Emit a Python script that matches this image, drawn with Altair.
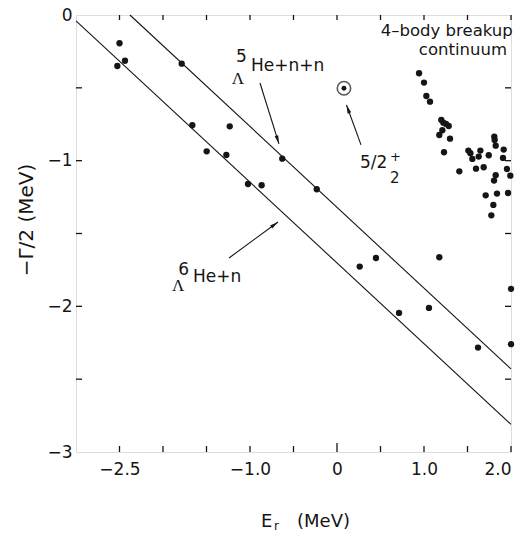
import altair as alt
import pandas as pd

# ---- data ----
pts_x = [-2.50, -2.525, -2.437, -1.785, -1.663, -1.233, -1.498, -1.272, -1.023, -0.866,
         -0.629, -0.233, 0.448, 0.261, 1.176, 0.713, 1.057, 1.621, 2.0, 2.0,
         0.943, 1.000, 1.027, 1.069, 1.199, 1.222, 1.253, 1.284, 1.211, 1.176,
         1.299, 1.230, 1.406, 1.510, 1.533, 1.556, 1.648, 1.629, 1.744, 1.598,
         1.686, 1.808, 1.812, 1.824, 1.916, 1.908, 1.954, 1.992, 1.824, 1.805,
         1.709, 1.839, 1.966, 1.797, 1.774]
pts_y = [-0.194, -0.350, -0.314, -0.334, -0.757, -0.764, -0.936, -0.961, -1.160, -1.169,
         -0.986, -1.196, -1.668, -1.727, -1.663, -2.045, -2.011, -2.283, -1.880, -2.260,
         -0.400, -0.464, -0.556, -0.595, -0.721, -0.739, -0.748, -0.762, -0.791, -0.824,
         -0.849, -0.942, -1.073, -0.931, -0.949, -0.988, -0.931, -0.972, -0.963, -1.055,
         -1.045, -0.835, -0.858, -0.897, -0.924, -0.981, -1.057, -1.103, -1.100, -1.137,
         -1.238, -1.226, -1.222, -1.304, -1.375]

circled_x = [0.080]
circled_y = [-0.503]

line_names = ["6He+n", "6He+n", "5He+n+n", "5He+n+n"]
line_x = [-3.0, 2.0, -2.38, 2.0]
line_y = [-0.04, -2.81, 0.0, -2.43]

arrow_x = [-0.885, -1.241, 0.276]
arrow_y = [-0.467, -1.668, -0.892]
arrow_x2 = [-0.667, -0.678, 0.109]
arrow_y2 = [-0.885, -1.421, -0.618]
arrow_angle = [162.7, 53.7, 340.0]

x_ticks = [-2.5, -2.0, -1.5, -1.0, -0.5, 0.5, 1.0, 1.5, 2.0]
x_major_tick = [0.0]
x_labels = [-2.5, -1.0, 0.0, 1.0, 2.0]
y_ticks = [-0.5, -1.0, -1.5, -2.0, -2.5]
y_labels = [0, -1, -2, -3]

W, H = 435, 437
FONT = "DejaVu Sans"
INK = "#151515"

xs = alt.Scale(domain=[-3, 2], nice=False, zero=False)
ys = alt.Scale(domain=[-3, 0], nice=False, zero=False)

pts = pd.DataFrame({"x": pts_x, "y": pts_y})
circ = pd.DataFrame({"x": circled_x, "y": circled_y})
lines = pd.DataFrame({"name": line_names, "x": line_x, "y": line_y})
arrows = pd.DataFrame({"x": arrow_x, "y": arrow_y, "x2": arrow_x2, "y2": arrow_y2, "a": arrow_angle})
xt = pd.DataFrame({"x": x_ticks})
xt0 = pd.DataFrame({"x": x_major_tick})
xt_all = pd.DataFrame({"x": x_ticks + x_major_tick})
yt = pd.DataFrame({"y": y_ticks})

xaxis = alt.Axis(values=x_labels, ticks=False, domain=False, grid=False, labelFont=FONT,
                 labelFontSize=17, labelColor=INK, labelPadding=9, title=None,
                 labelExpr="datum.value == 0 ? '0' : replace(format(datum.value, '.1f'), '-', '\u2212')")
yaxis = alt.Axis(values=y_labels, ticks=False, domain=False, grid=False, labelFont=FONT,
                 labelFontSize=17, labelColor=INK, labelPadding=4, title=None,
                 labelExpr="replace(format(datum.value, 'd'), '-', '\u2212')")

base_line = alt.Chart(lines).mark_line(color=INK, strokeWidth=1.1).encode(
    x=alt.X("x:Q", scale=xs, axis=xaxis),
    y=alt.Y("y:Q", scale=ys, axis=yaxis),
    detail="name:N")

dots = alt.Chart(pts).mark_circle(color=INK, size=40, opacity=1).encode(
    x=alt.X("x:Q", scale=xs), y=alt.Y("y:Q", scale=ys))

ring = alt.Chart(circ).mark_point(shape="circle", filled=False, color=INK, size=180, strokeWidth=1.6).encode(
    x=alt.X("x:Q", scale=xs), y=alt.Y("y:Q", scale=ys))
ringdot = alt.Chart(circ).mark_circle(color=INK, size=24, opacity=1).encode(
    x=alt.X("x:Q", scale=xs), y=alt.Y("y:Q", scale=ys))

arrow_lines = alt.Chart(arrows).mark_rule(color=INK, strokeWidth=1.1).encode(
    x=alt.X("x:Q", scale=xs), y=alt.Y("y:Q", scale=ys), x2="x2:Q", y2="y2:Q")
arrow_heads = alt.Chart(arrows).mark_point(
    shape="M0,0L-0.38,1.7L0.38,1.7Z", filled=True, color=INK, size=100, opacity=1).encode(
    x=alt.X("x2:Q", scale=xs), y=alt.Y("y2:Q", scale=ys), angle=alt.Angle("a:Q", scale=None))

# inward ticks
t_bottom = alt.Chart(xt).mark_rule(color=INK, strokeWidth=1.3).encode(
    x=alt.X("x:Q", scale=xs), y=alt.value(H), y2=alt.value(H - 6))
t_bottom0 = alt.Chart(xt0).mark_rule(color=INK, strokeWidth=1.3).encode(
    x=alt.X("x:Q", scale=xs), y=alt.value(H), y2=alt.value(H - 9))
t_top = alt.Chart(xt_all).mark_rule(color=INK, strokeWidth=1.3).encode(
    x=alt.X("x:Q", scale=xs), y=alt.value(0), y2=alt.value(5))
t_left = alt.Chart(yt).mark_rule(color=INK, strokeWidth=1.3).encode(
    y=alt.Y("y:Q", scale=ys), x=alt.value(0), x2=alt.value(6))
t_right = alt.Chart(yt).mark_rule(color=INK, strokeWidth=1.3).encode(
    y=alt.Y("y:Q", scale=ys), x=alt.value(W), x2=alt.value(W - 6))


def txt(s, x, y, size=17, align="left", baseline="middle", font=FONT, angle=0):
    d = pd.DataFrame({"t": [s], "x": [x], "y": [y]})
    m = alt.Chart(d).mark_text(text=s, font=font, fontSize=size, align=align, baseline=baseline,
                               color=INK, angle=angle)
    return m.encode(x=alt.X("x:Q", scale=xs), y=alt.Y("y:Q", scale=ys))


def ptxt(s, px, py, size=17, align="left", baseline="middle", font=FONT, angle=0):
    d = pd.DataFrame({"t": [s]})
    return alt.Chart(d).mark_text(text=s, font=font, fontSize=size, align=align, baseline=baseline,
                                  color=INK, angle=angle).encode(x=alt.value(px), y=alt.value(py))


texts = [
    txt("5", -1.10, -0.29, size=17, align="center"),
    txt("\u039b", -1.14, -0.44, size=17, align="center", font="Liberation Serif"),
    txt("He+n+n", -0.989, -0.35, size=17),
    txt("6", -1.762, -1.75, size=17, align="center"),
    txt("\u039b", -1.825, -1.86, size=17, align="center", font="Liberation Serif"),
    txt("He+n", -1.655, -1.798, size=17),
    txt("5/2", 0.264, -1.016, size=17),
    txt("+", 0.672, -0.975, size=13, align="center"),
    txt("2", 0.665, -1.119, size=15, align="center"),
    txt("4\u2013body breakup", 2.02, -0.11, size=16.5, align="right"),
    txt("continuum", 1.954, -0.24, size=16.5, align="right"),
    # axis titles
    ptxt("E", 185, 512, size=18, baseline="alphabetic"),
    ptxt("r", 198, 515, size=12, baseline="alphabetic"),
    ptxt("(MeV)", 221, 512, size=18, baseline="alphabetic"),
    ptxt("\u2212\u0393/2 (MeV)", -49, 205, size=20, align="center", angle=270),
]

chart = alt.layer(base_line, dots, ring, ringdot, arrow_lines, arrow_heads,
                  t_bottom, t_bottom0, t_top, t_left, t_right, *texts).properties(
    width=W, height=H,
    autosize=alt.AutoSizeParams(type="none"),
    padding={"left": 76, "top": 15, "right": 10, "bottom": 83},
).configure_view(stroke=INK, strokeWidth=1.5).configure(background="white")

chart.save("out.html", embed_options={"renderer": "svg", "actions": False})
